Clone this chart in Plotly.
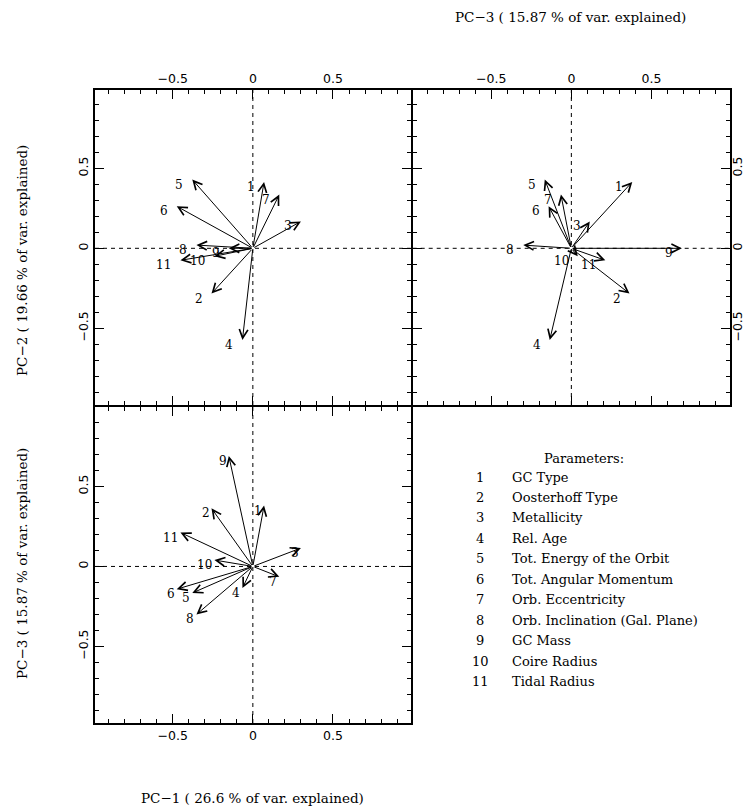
import plotly.graph_objects as go

# Parameter identifiers and descriptions
param_ids = ["1", "2", "3", "4", "5", "6", "7", "8", "9", "10", "11"]
param_names = [
    "GC Type",
    "Oosterhoff Type",
    "Metallicity",
    "Rel. Age",
    "Tot. Energy of the Orbit",
    "Tot. Angular Momentum",
    "Orb. Eccentricity",
    "Orb. Inclination (Gal. Plane)",
    "GC Mass",
    "Coire Radius",
    "Tidal Radius",
]

# Loadings of each parameter on the first three principal components
pc1 = [0.07, -0.258, 0.30, -0.065, -0.378, -0.475, 0.165, -0.352, -0.15, -0.24, -0.452]
pc2 = [0.415, -0.283, 0.168, -0.573, 0.43, 0.263, 0.336, 0.02, 0.0, -0.05, -0.075]
pc3 = [0.38, 0.363, 0.115, -0.135, -0.166, -0.142, -0.065, -0.30, 0.69, 0.04, 0.212]

# Explained variance text
title_pc1 = "PC\u22121 ( 26.6 % of var. explained)"
title_pc2 = "PC\u22122 ( 19.66 % of var. explained)"
title_pc3 = "PC\u22123 ( 15.87 % of var. explained)"

tick_vals = [-0.5, 0, 0.5]
tick_text = ["\u22120.5", "0", "0.5"]

W, H = 746, 810
ML, MR, MT, MB = 95, 16, 90, 87
PW, PH = W - ML - MR, H - MT - MB

def px_x(p):
    return (p - ML) / PW

def px_y(p):
    return (H - MB - p) / PH

TICK_FONT = dict(family="DejaVu Sans", size=12.5, color="black")
SERIF = "DejaVu Serif"

fig = go.Figure()

# (x axis, y axis, x values, y values, label shift)
panels = [
    ("x", "y", pc1, pc2, -7),
    ("x2", "y2", pc3, pc2, -7),
    ("x3", "y3", pc1, pc3, 0),
]

annotations = []
shapes = []
for xa, ya, xv, yv, lshift in panels:
    fig.add_trace(go.Scatter(
        x=xv, y=yv, xaxis=xa, yaxis=ya, mode="markers",
        marker=dict(size=1, opacity=0), hoverinfo="skip", showlegend=False,
    ))
    # dashed zero lines
    shapes.append(dict(type="line", xref=xa, yref=ya + " domain", x0=0, x1=0, y0=0, y1=1,
                       line=dict(color="black", width=1, dash="4px,4px"), layer="below"))
    shapes.append(dict(type="line", xref=xa + " domain", yref=ya, x0=0, x1=1, y0=0, y1=0,
                       line=dict(color="black", width=1, dash="4px,4px"), layer="below"))
    for pid, a, b in zip(param_ids, xv, yv):
        annotations.append(dict(
            x=a, y=b, xref=xa, yref=ya, ax=0, ay=0, axref=xa, ayref=ya,
            text="", showarrow=True, arrowhead=5, arrowsize=1.7, arrowwidth=1,
            arrowcolor="black",
        ))
        annotations.append(dict(
            x=a, y=b, xref=xa, yref=ya, text=pid, showarrow=False,
            xanchor="right", yanchor="middle", xshift=lshift, yshift=-5,
            font=dict(family=SERIF, size=12, color="black"),
        ))

# Axis titles
annotations += [
    dict(x=px_x(570), y=px_y(17), xref="paper", yref="paper", text=title_pc3,
         showarrow=False, xanchor="center", yanchor="middle",
         font=dict(family=SERIF, size=13.5, color="black")),
    dict(x=px_x(252), y=px_y(798), xref="paper", yref="paper", text=title_pc1,
         showarrow=False, xanchor="center", yanchor="middle",
         font=dict(family=SERIF, size=13.5, color="black")),
    dict(x=px_x(22), y=px_y(261), xref="paper", yref="paper", text=title_pc2,
         showarrow=False, xanchor="center", yanchor="middle", textangle=-90,
         font=dict(family=SERIF, size=13.5, color="black")),
    dict(x=px_x(22), y=px_y(564), xref="paper", yref="paper", text=title_pc3,
         showarrow=False, xanchor="center", yanchor="middle", textangle=-90,
         font=dict(family=SERIF, size=13.5, color="black")),
]

# Parameter key
annotations.append(dict(x=px_x(584), y=px_y(458), xref="paper", yref="paper",
                        text="Parameters:", showarrow=False, xanchor="center", yanchor="middle",
                        font=dict(family=SERIF, size=13, color="black")))
for i, (pid, name) in enumerate(zip(param_ids, param_names)):
    yy = px_y(477 + 20.45 * i)
    annotations.append(dict(x=px_x(480), y=yy, xref="paper", yref="paper", text=pid,
                            showarrow=False, xanchor="center", yanchor="middle",
                            font=dict(family=SERIF, size=13, color="black")))
    annotations.append(dict(x=px_x(510), y=yy, xref="paper", yref="paper", text=name,
                            showarrow=False, xanchor="left", yanchor="middle",
                            font=dict(family=SERIF, size=13, color="black")))

def axis(domain, rng, anchor, side, show_labels, angle=0, standoff=0):
    return dict(
        domain=domain, range=rng, anchor=anchor, side=side, automargin=False,
        showline=True, linecolor="black", linewidth=2, mirror="allticks",
        ticks="inside", ticklen=9, tickwidth=1.3, tickcolor="black",
        tickmode="array", tickvals=tick_vals, ticktext=tick_text,
        showticklabels=show_labels, tickfont=TICK_FONT, tickangle=angle,
        ticklabelstandoff=standoff,
        minor=dict(tickmode="linear", tick0=0, dtick=0.1, ticks="inside",
                   ticklen=4, tickwidth=1.1, tickcolor="black", showgrid=False),
        showgrid=False, zeroline=False, fixedrange=True,
    )

# shared borders: neighbouring panels are offset by one line width so their frames coincide
XS = px_x(410.7)
XS2 = px_x(412.7)
YS = px_y(405)
YS3 = px_y(407)

fig.update_layout(
    width=W, height=H,
    margin=dict(l=ML, r=MR, t=MT, b=MB, autoexpand=False),
    paper_bgcolor="white", plot_bgcolor="white",
    showlegend=False,
    xaxis=axis([0, XS], [-0.985, 0.985], "y", "top", True),
    yaxis=axis([YS, 1], [-0.98, 0.99], "x", "left", True, -90),
    xaxis2=axis([XS2, 1], [-0.99, 0.99], "y2", "top", True),
    yaxis2=axis([YS, 1], [-0.98, 0.99], "x2", "right", True, -90, -5),
    xaxis3=axis([0, XS], [-0.985, 0.985], "y3", "bottom", True),
    yaxis3=axis([0, YS3], [-0.978, 0.996], "x3", "left", True, -90),
    annotations=annotations,
    shapes=shapes,
)

fig.write_html("out.html")
